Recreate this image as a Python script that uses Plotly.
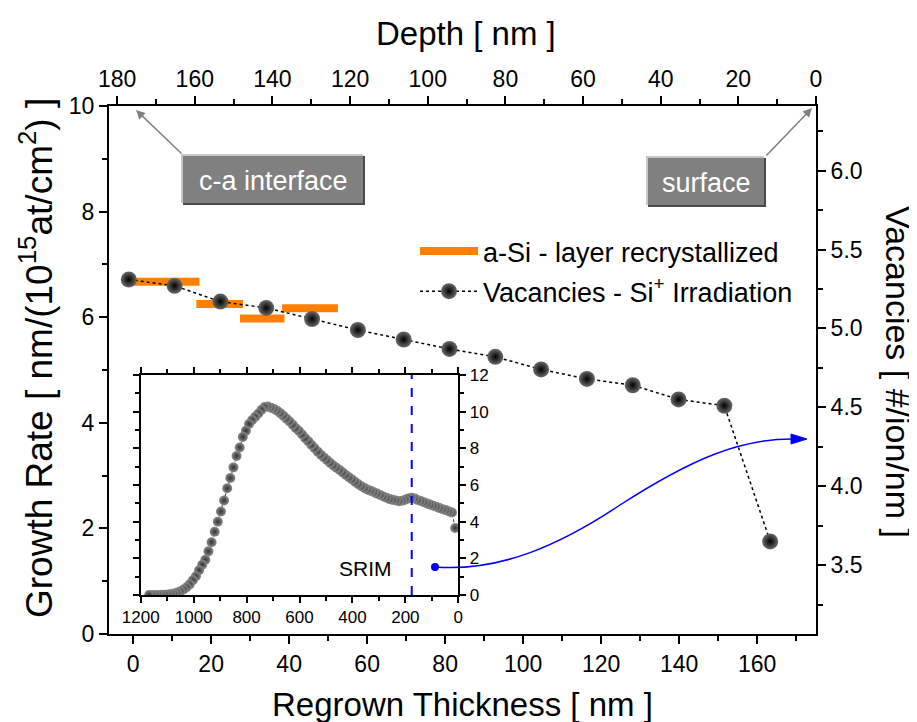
import plotly.graph_objects as go

# ---------------- data ----------------
# a-Si layer recrystallized (bottom axis: regrown thickness nm, left axis: growth rate)
seg_start = [-0.5, 16.2, 27.4, 38.2]
seg_end = [17.0, 28.2, 38.8, 52.5]
seg_rate = [6.67, 6.25, 5.975, 6.17]

# Vacancies - Si+ irradiation (top axis: depth nm, right axis: #/ion/nm)
vac_depth = [177.0, 165.2, 153.4, 141.6, 129.8, 118.0, 106.2, 94.4, 82.6, 70.8,
             59.0, 47.2, 35.4, 23.6, 11.8]
vac_value = [5.31, 5.27, 5.17, 5.13, 5.06, 4.99, 4.93, 4.87, 4.82, 4.74,
             4.68, 4.64, 4.55, 4.51, 3.65]

# SRIM inset profile
srim_depth = [11.8, 23.6, 35.4, 47.2, 59.0, 70.8, 82.6, 94.4, 106.2, 118.0,
              129.8, 141.6, 153.4, 165.2, 177.0, 188.8, 200.6, 212.4, 224.2, 236.0,
              247.8, 259.6, 271.4, 283.2, 295.0, 306.8, 318.6, 330.4, 342.2, 354.0,
              365.8, 377.6, 389.4, 401.2, 413.0, 424.8, 436.6, 448.4, 460.2, 472.0,
              483.8, 495.6, 507.4, 519.2, 531.0, 542.8, 554.6, 566.4, 578.2, 590.0,
              601.8, 613.6, 625.4, 637.2, 649.0, 660.8, 672.6, 684.4, 696.2, 708.0,
              719.8, 731.6, 743.4, 755.2, 767.0, 778.8, 790.6, 802.4, 814.2, 826.0,
              837.8, 849.6, 861.4, 873.2, 885.0, 896.8, 908.6, 920.4, 932.2, 944.0,
              955.8, 967.6, 979.4, 991.2, 1003.0, 1014.8, 1026.6, 1038.4, 1050.2, 1062.0,
              1073.8, 1085.6, 1097.4, 1109.2, 1121.0, 1132.8, 1144.6, 1156.4, 1168.2]
srim_value = [3.65, 4.50, 4.56, 4.63, 4.68, 4.74, 4.81, 4.87, 4.93, 4.99,
              5.06, 5.13, 5.18, 5.27, 5.31, 5.27, 5.20, 5.14, 5.12, 5.15,
              5.19, 5.23, 5.30, 5.37, 5.45, 5.53, 5.60, 5.68, 5.74, 5.83,
              5.93, 6.04, 6.16, 6.30, 6.42, 6.55, 6.68, 6.82, 6.94, 7.06,
              7.20, 7.35, 7.50, 7.65, 7.82, 8.00, 8.18, 8.38, 8.55, 8.75,
              8.95, 9.10, 9.28, 9.46, 9.62, 9.78, 9.92, 10.05, 10.15, 10.22,
              10.28, 10.25, 10.10, 9.90, 9.72, 9.55, 9.33, 8.96, 8.62, 8.05,
              7.58, 6.96, 6.38, 5.82, 5.15, 4.55, 4.00, 3.45, 2.88, 2.38,
              1.92, 1.65, 1.35, 1.02, 0.80, 0.58, 0.42, 0.30, 0.20, 0.13,
              0.08, 0.05, 0.03, 0.02, 0.01, 0.0, 0.0, 0.0, 0.0]
srim_marker_depth = 176

bottom_ticks = [0, 20, 40, 60, 80, 100, 120, 140, 160]
top_ticks = [180, 160, 140, 120, 100, 80, 60, 40, 20, 0]
left_ticks = [0, 2, 4, 6, 8, 10]
right_ticks = [3.5, 4.0, 4.5, 5.0, 5.5, 6.0]
inset_x_ticks = [1200, 1000, 800, 600, 400, 200, 0]
inset_y_ticks = [0, 2, 4, 6, 8, 10, 12]

# ---------------- layout geometry (screen pixels) ----------------
OFF = 8                      # page body margin of the browser
W, H = 917 - OFF, 722 - OFF
L, R, T, B = 109, 816, 106, 634
FONT = "Liberation Sans, Arial, sans-serif"


def px(x):
    return (x - L) / (R - L)


def py(y):
    return (B - y) / (B - T)


# build orange segments
seg_x, seg_y = [], []
for s, e, r in zip(seg_start, seg_end, seg_rate):
    seg_x += [s, e, None]
    seg_y += [r, r, None]

fig = go.Figure()
fig.add_trace(go.Scatter(
    x=seg_x, y=seg_y, mode="lines", name="a-Si - layer recrystallized",
    legendgroup="a", line=dict(color="#FF8000", width=8), xaxis="x", yaxis="y"))
fig.add_trace(go.Scatter(
    x=vac_depth, y=vac_value, mode="lines+markers",
    name="Vacancies - Si<sup>+</sup> Irradiation", legendgroup="b",
    line=dict(color="black", width=1.5, dash="dot"),
    marker=dict(size=16, color="#6a6a6a", line=dict(width=0),
                gradient=dict(type="radial", color="black")),
    xaxis="x2", yaxis="y2"))
fig.add_trace(go.Scatter(
    x=srim_depth, y=srim_value, mode="lines+markers", showlegend=False,
    line=dict(color="#333333", width=1, dash="dot"),
    marker=dict(size=10, color="#8c8c8c", line=dict(width=0),
                gradient=dict(type="radial", color="#303030")),
    xaxis="x3", yaxis="y3"))

axis_common = dict(showline=True, linecolor="black", linewidth=2, showgrid=False,
                   zeroline=False, ticks="outside", ticklen=8, tickwidth=2,
                   tickcolor="black", tickfont=dict(family=FONT, size=23, color="black"))


def minor(d, n=5):
    return dict(dtick=d, ticks="outside", ticklen=n, tickwidth=2, tickcolor="black")


inset_common = dict(showline=True, linecolor="black", linewidth=2, showgrid=False,
                    zeroline=False, ticks="outside", ticklen=6, tickwidth=1.5,
                    tickcolor="black", mirror="ticks",
                    tickfont=dict(family=FONT, size=17, color="black"))

fig.update_layout(
    width=W, height=H,
    margin=dict(l=L - OFF, r=W - (R - OFF), t=T - OFF, b=H - (B - OFF)),
    paper_bgcolor="white", plot_bgcolor="rgba(0,0,0,0)",
    font=dict(family=FONT, color="black"),
    xaxis=dict(range=[-6.2, 175.1], tickvals=bottom_ticks, anchor="y",
               minor=minor(10), domain=[0, 1], **axis_common),
    yaxis=dict(range=[0, 10], tickvals=left_ticks, anchor="x",
               minor=minor(1), domain=[0, 1], **axis_common),
    xaxis2=dict(range=[182.1, 0], tickvals=top_ticks, overlaying="x", side="top",
                anchor="y", minor=minor(10), **axis_common),
    yaxis2=dict(range=[3.063, 6.41], tickvals=right_ticks, overlaying="y", side="right",
                anchor="x", tickformat=".1f", minor=dict(dtick=0.25, tick0=0, ticks="outside",
                                                         ticklen=5, tickwidth=2, tickcolor="black"),
                **axis_common),
    xaxis3=dict(domain=[px(140.7), px(458.3)], anchor="y3", range=[1200, 0],
                tickvals=inset_x_ticks, minor=dict(dtick=100, ticks="outside", ticklen=4,
                                                   tickwidth=1.5, tickcolor="black"),
                **inset_common),
    yaxis3=dict(domain=[py(595), py(375)], anchor="x3", side="right", range=[0, 12],
                tickvals=inset_y_ticks, minor=dict(dtick=1, ticks="outside", ticklen=4,
                                                   tickwidth=1.5, tickcolor="black"),
                **inset_common),
    legend=dict(x=px(415), y=py(227), xanchor="left", yanchor="top",
                bgcolor="rgba(0,0,0,0)", font=dict(family=FONT, size=27, color="black"),
                traceorder="grouped", tracegroupgap=2, itemwidth=58),
)

ann = []
shapes = []


def label(text, x, y, size, angle=0, color="black"):
    ann.append(dict(text=text, x=px(x), y=py(y), xref="paper", yref="paper",
                    xanchor="center", yanchor="middle", showarrow=False, textangle=angle,
                    font=dict(size=size, family=FONT, color=color)))


# axis titles
label("Depth [ nm ]", 466, 33, 33)
label("Regrown Thickness [ nm ]", 462, 704, 33)
label("Growth Rate [ nm/(10<sup>15</sup>at/cm<sup>2</sup>) ]", 36, 358, 37, angle=-90)
label("Vacancies [ #/ion/nm ]", 898, 372, 34, angle=90)


# bevelled label boxes
def bevel_box(x0, y0, x1, y1, text):
    shapes.append(dict(type="rect", xref="paper", yref="paper", x0=px(x0 - 2), x1=px(x1),
                       y0=py(y1), y1=py(y0 - 2), fillcolor="#c8c8c8", line=dict(width=0)))
    shapes.append(dict(type="rect", xref="paper", yref="paper", x0=px(x0), x1=px(x1 + 2),
                       y0=py(y1 + 2), y1=py(y0), fillcolor="#4a4a4a", line=dict(width=0)))
    shapes.append(dict(type="rect", xref="paper", yref="paper", x0=px(x0), x1=px(x1),
                       y0=py(y1), y1=py(y0), fillcolor="#808080", line=dict(width=0)))
    label(text, (x0 + x1) / 2, (y0 + y1) / 2 + 1, 27, color="white")


bevel_box(183, 156, 363, 203, "c-a interface")
bevel_box(648, 158, 764, 205, "surface")

# grey arrows
ann.append(dict(text="", x=px(136), y=py(110), xref="paper", yref="paper", showarrow=True,
                ax=47, ay=45, arrowcolor="#808080", arrowwidth=1.5, arrowhead=2, arrowsize=1.2))
ann.append(dict(text="", x=px(812), y=py(108), xref="paper", yref="paper", showarrow=True,
                ax=-47, ay=49, arrowcolor="#808080", arrowwidth=1.5, arrowhead=2, arrowsize=1.2))

# SRIM label and marker line in inset
ann.append(dict(text="SRIM", x=352, y=1.45, xref="x3", yref="y3", showarrow=False,
                xanchor="center", yanchor="middle", font=dict(size=21, family=FONT)))
shapes.append(dict(type="line", xref="x3", yref="y3", x0=srim_marker_depth, x1=srim_marker_depth,
                   y0=0, y1=12, line=dict(color="#0000FF", width=2, dash="dash")))

# blue connecting curve
path = ("M {},{} C {},{} {},{} {},{} C {},{} {},{} {},{}".format(
    px(435), py(567), px(500), py(572), px(560), py(545), px(620), py(505),
    px(690), py(460), px(740), py(438), px(795), py(439)))
shapes.append(dict(type="path", xref="paper", yref="paper", path=path,
                   line=dict(color="#0000FF", width=1.5)))
shapes.append(dict(type="path", xref="paper", yref="paper",
                   path="M {},{} L {},{} L {},{} Z".format(px(807), py(439), px(791), py(434),
                                                           px(791), py(444)),
                   fillcolor="#0000FF", line=dict(color="#0000FF", width=1)))
shapes.append(dict(type="circle", xref="paper", yref="paper", x0=px(431), x1=px(439),
                   y0=py(571), y1=py(563), fillcolor="#0000FF", line=dict(width=0)))

fig.update_layout(annotations=ann, shapes=shapes)
fig.write_html("out.html")
